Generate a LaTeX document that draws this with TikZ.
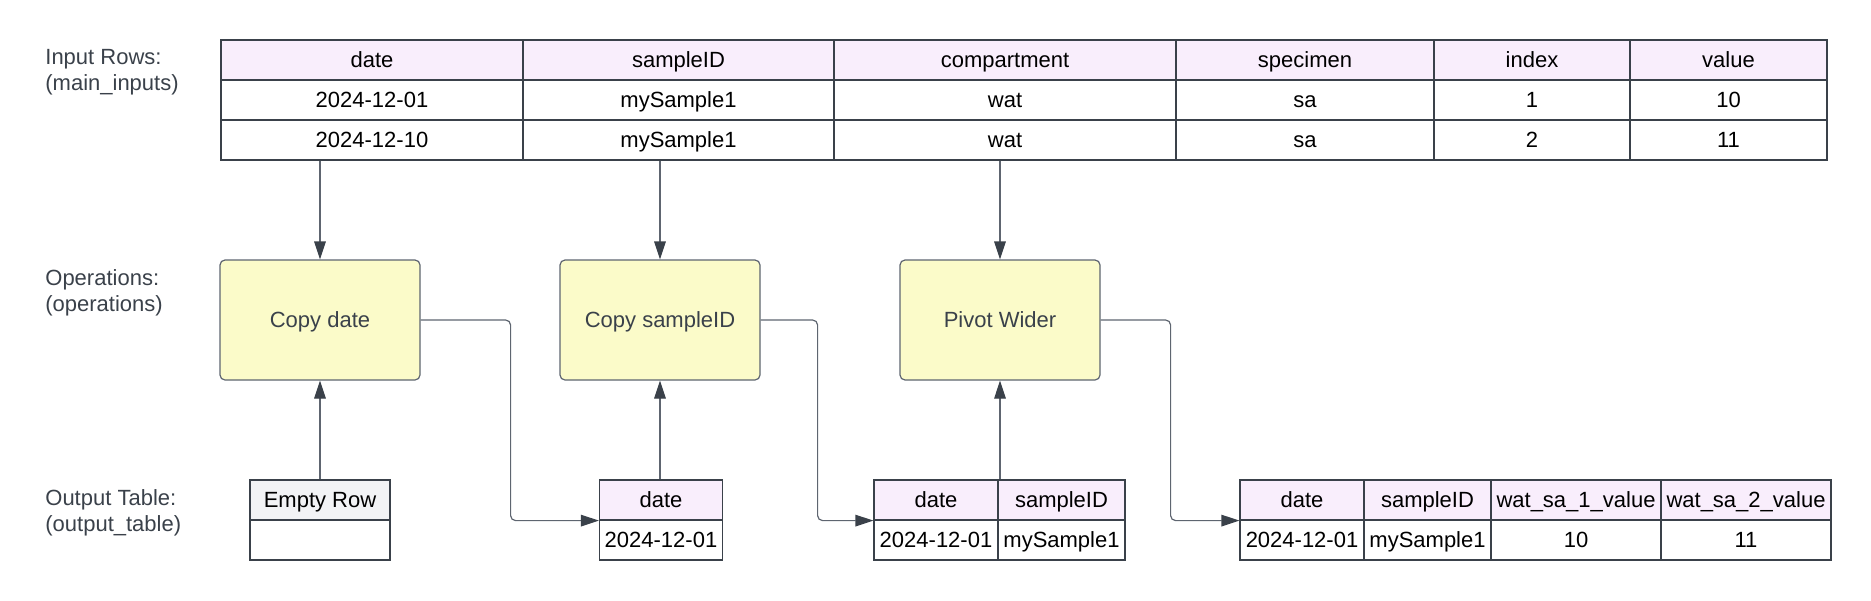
\documentclass[tikz,border=0pt]{standalone}
\usepackage{fontspec}
\setmainfont{Liberation Sans}
\usetikzlibrary{arrows.meta}
\definecolor{hdr}{HTML}{F9EEFC}
\definecolor{hdrgray}{HTML}{F2F3F5}
\definecolor{opfill}{HTML}{FBFBC9}
\definecolor{tline}{HTML}{3A414A}
\definecolor{opline}{HTML}{5E6570}
\definecolor{conn}{HTML}{5E6570}
\definecolor{labtxt}{HTML}{3A414A}
\begin{document}
\begin{tikzpicture}[x=0.5pt,y=-0.5pt,
  txt/.style={font=\fontsize{11}{13}\selectfont},
  cell/.style={txt, draw=tline, line width=0.6pt, inner sep=0pt, text=black,
    text height=8pt, text depth=1pt},
  wh/.style 2 args={minimum width=#1*0.5pt, minimum height=#2*0.5pt},
  hcell/.style={cell, fill=hdr},
  gcell/.style={cell, fill=hdrgray},
  opbox/.style={txt, draw=opline, fill=opfill, rounded corners=2.5pt, line width=0.6pt,
    minimum width=100pt, minimum height=60pt, inner sep=0pt, text=labtxt,
    text height=8pt, text depth=1pt},
  lab/.style={txt, anchor=west, align=left, inner sep=0pt, text=labtxt},
  arr/.style={draw=conn, line width=0.6pt, -{Triangle[length=9pt,width=5.8pt,color=tline]}}
]
\useasboundingbox (0,0) rectangle (1871,600);

% left labels
\node[lab] (l1) at (45,72.5) {Input Rows:\\(main\_inputs)};
\node[lab] (l2) at (45,293) {Operations:\\(operations)};
\node[lab] (l3) at (45,513) {Output Table:\\(output\_table)};

% input table
\foreach \n/\cx/\w/\h/\a/\b in {
  1/372/302/date/2024-12-01/2024-12-10,
  2/678.5/311/sampleID/mySample1/mySample1,
  3/1005/342/compartment/wat/wat,
  4/1305/258/specimen/sa/sa,
  5/1532/196/index/1/2,
  6/1728.5/197/value/10/11}{
  \node[hcell, wh={\w}{40}] (h\n) at (\cx,60) {\h};
  \node[cell, wh={\w}{40}] (a\n) at (\cx,100) {\a};
  \node[cell, wh={\w}{40}] (b\n) at (\cx,140) {\b};
}

% operations
\node[opbox] (cd) at (320,320) {Copy date};
\node[opbox] (cs) at (660,320) {Copy sampleID};
\node[opbox] (pw) at (1000,320) {Pivot Wider};

% output tables
\node[gcell, wh={140}{40}] (erh) at (320,500) {Empty Row};
\node[cell, wh={140}{40}] (erb) at (320,540) {};

\node[hcell, wh={123}{40}] (t2h) at (661,500) {date};
\node[cell, wh={123}{40}] (t2b) at (661,540) {2024-12-01};

\node[hcell, wh={124}{40}] (t3ha) at (936,500) {date};
\node[hcell, wh={127}{40}] (t3hb) at (1061.5,500) {sampleID};
\node[cell, wh={124}{40}] (t3ba) at (936,540) {2024-12-01};
\node[cell, wh={127}{40}] (t3bb) at (1061.5,540) {mySample1};

\node[hcell, wh={124}{40}] (t4ha) at (1302,500) {date};
\node[hcell, wh={127}{40}] (t4hb) at (1427.5,500) {sampleID};
\node[hcell, wh={170}{40}] (t4hc) at (1576,500) {wat\_sa\_1\_value};
\node[hcell, wh={170}{40}] (t4hd) at (1746,500) {wat\_sa\_2\_value};
\node[cell, wh={124}{40}] (t4ba) at (1302,540) {2024-12-01};
\node[cell, wh={127}{40}] (t4bb) at (1427.5,540) {mySample1};
\node[cell, wh={170}{40}] (t4bc) at (1576,540) {10};
\node[cell, wh={170}{40}] (t4bd) at (1746,540) {11};

% connectors
\draw[arr] (b1.south -| cd.north) -- (cd.north);
\draw[arr] (b2.south -| cs.north) -- (cs.north);
\draw[arr] (b3.south -| pw.north) -- (pw.north);
\draw[arr] (erh.north) -- (cd.south);
\draw[arr] (t2h.north -| cs.south) -- (cs.south);
\draw[arr] (t3hb.north -| pw.south) -- (pw.south);
\draw[arr, rounded corners=2.5pt] (cd.east) -- ++(90,0) |- (t2h.south west);
\draw[arr, rounded corners=2.5pt] (cs.east) -- ++(57,0) |- (t3ha.south west);
\draw[arr, rounded corners=2.5pt] (pw.east) -- ++(70,0) |- (t4ha.south west);
\end{tikzpicture}
\end{document}
